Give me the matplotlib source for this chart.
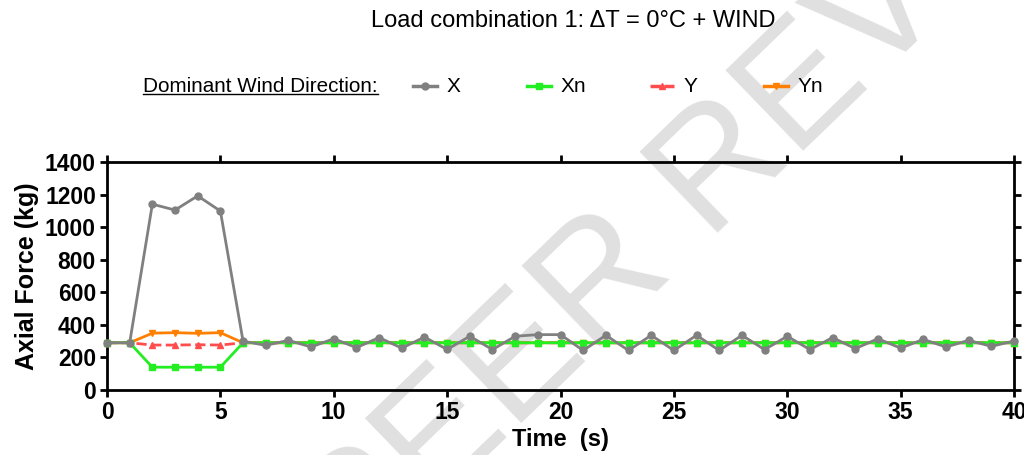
import matplotlib.pyplot as plt
from matplotlib.lines import Line2D

plt.rcParams['font.family'] = ['Liberation Sans', 'DejaVu Sans']

time_s = list(range(0, 41))

force_x = [290, 290, 1141, 1105, 1192, 1099, 300, 274, 305, 264, 315, 260, 322, 257,
           325, 249, 330, 248, 330, 340, 340, 243, 336, 243, 336, 243, 336, 243,
           336, 248, 330, 248, 322, 254, 315, 257, 311, 264, 305, 268, 301]
force_xn = [290, 290, 140, 140, 140, 140] + [290] * 35
force_y = [290, 290, 276, 276, 278, 276] + [290] * 35
force_yn = [290, 290, 349, 352, 348, 352] + [290] * 35

series_names = ["X", "Xn", "Y", "Yn"]
series_colors = ["#808080", "#22ee22", "#ff4d4d", "#ff8000"]
series_markers = ["o", "s", "^", "v"]
series_styles = ["-", "-", "--", "-"]
series_data = [force_x, force_xn, force_y, force_yn]
series_z = [6, 5, 4, 3]

fig = plt.figure(figsize=(10.24, 4.55), dpi=100)

# watermark, kept behind the axes
wm = fig.text(735 / 1024, 1 - 158 / 455, "PEER REVIEW", fontsize=118, color="#e0e0e0",
              rotation=44, ha="center", va="center", zorder=0)

ax = fig.add_axes([107 / 1024, 1 - 390 / 455, 907 / 1024, 228 / 455])
ax.set_zorder(1)
ax.patch.set_alpha(0)

for name, col, mk, ls, data, z in zip(series_names, series_colors, series_markers,
                                      series_styles, series_data, series_z):
    ax.plot(time_s, data, color=col, marker=mk, linestyle=ls, linewidth=2,
            markersize=5, zorder=z, clip_on=False)

ax.set_xlim(0, 40)
ax.set_ylim(0, 1400)
ax.set_xticks(range(0, 41, 5))
ax.set_yticks(range(0, 1401, 200))
for s in ax.spines.values():
    s.set_linewidth(2)
ax.tick_params(which="both", direction="out", width=2, length=5,
               top=True, right=True, labelsize=16.5, pad=3)
for lab in ax.get_xticklabels() + ax.get_yticklabels():
    lab.set_fontweight("bold")
ax.set_xlabel("Time  (s)", fontsize=17, fontweight="bold", labelpad=3)
ax.set_ylabel("Axial Force (kg)", fontsize=18, fontweight="bold", labelpad=4)

fig.text(573 / 1024, 1 - 21 / 455, "Load combination 1: \u0394T = 0\u00b0C + WIND",
         fontsize=17, ha="center", va="center")

# legend row
ly = 1 - 86 / 455
hdr = fig.text(143 / 1024, ly, "Dominant Wind Direction:", fontsize=14.9,
               ha="left", va="center")
fig.canvas.draw()
bb = hdr.get_window_extent().transformed(fig.transFigure.inverted())
fig.add_artist(Line2D([bb.x0, bb.x1], [bb.y0 + 0.004, bb.y0 + 0.004],
                      transform=fig.transFigure, color="black", linewidth=1))

leg_x = [413, 527, 650, 764]
for x0, name, col, mk, ls in zip(leg_x, series_names, series_colors,
                                 series_markers, series_styles):
    fig.add_artist(Line2D([x0 / 1024, (x0 + 24) / 1024], [ly, ly],
                          transform=fig.transFigure, color=col, linewidth=2.5,
                          linestyle=ls, dashes=(3, 1) if ls == "--" else (None, None)))
    fig.add_artist(Line2D([(x0 + 12) / 1024], [ly], transform=fig.transFigure,
                          color=col, marker=mk, markersize=5, linestyle="none"))
    fig.text((x0 + 34) / 1024, ly, name, fontsize=15, ha="left", va="center")

fig.savefig("out.png", dpi=100)
